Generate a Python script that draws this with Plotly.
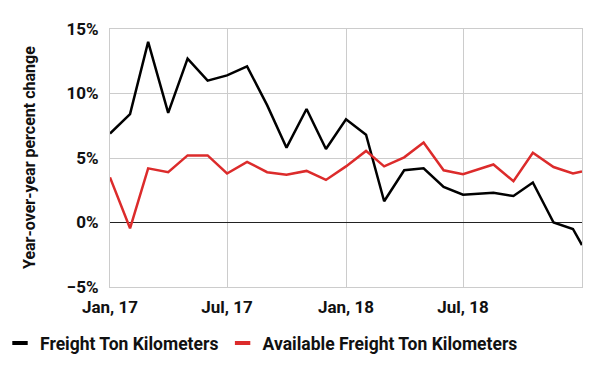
import plotly.graph_objects as go

dates = [
    "2017-01-01", "2017-02-01", "2017-03-01", "2017-04-01", "2017-05-01", "2017-06-01",
    "2017-07-01", "2017-08-01", "2017-09-01", "2017-10-01", "2017-11-01", "2017-12-01",
    "2018-01-01", "2018-02-01", "2018-03-01", "2018-04-01", "2018-05-01", "2018-06-01",
    "2018-07-01", "2018-08-17", "2018-09-17", "2018-10-17", "2018-11-18", "2018-12-18",
    "2019-01-01",
]
ftk = [6.9, 8.4, 14.0, 8.5, 12.7, 11.0, 11.4, 12.1, 9.1, 5.8, 8.8, 5.7,
       8.0, 6.8, 1.65, 4.05, 4.2, 2.75, 2.15, 2.3, 2.05, 3.1, 0.0, -0.5, -1.75]
aftk = [3.5, -0.45, 4.2, 3.9, 5.2, 5.2, 3.8, 4.7, 3.9, 3.7, 4.0, 3.3,
        4.35, 5.55, 4.35, 5.05, 6.2, 4.05, 3.75, 4.5, 3.2, 5.4, 4.3, 3.8, 3.95]

names = ["Freight Ton Kilometers", "Available Freight Ton Kilometers"]
colors = ["#000000", "#dc2b2b"]
series = [ftk, aftk]
legend_ids = ["legend", "legend2"]
y_title = "Year-over-year percent change"

FONT = "Roboto"

fig = go.Figure()
for name, col, vals, lg in zip(names, colors, series, legend_ids):
    fig.add_trace(go.Scatter(x=dates, y=vals, mode="lines", name=name,
                             line=dict(color=col, width=2.5), showlegend=False))
    fig.add_trace(go.Scatter(x=[None], y=[None], mode="markers", name=name,
                             legend=lg,
                             marker=dict(symbol="line-ew", size=11,
                                         line=dict(color=col, width=4))))

legend_common = dict(orientation="h", xref="container", yref="container",
                     y=0.075, xanchor="left", yanchor="middle",
                     font=dict(size=17.5, weight=700, color="#111111"),
                     itemwidth=30, bgcolor="rgba(0,0,0,0)")

fig.update_layout(
    width=600, height=371,
    margin=dict(l=110, r=18, t=29, b=84, autoexpand=False),
    paper_bgcolor="white", plot_bgcolor="white",
    font=dict(family=FONT, size=17, color="#111111", weight=700),
    legend=dict(x=0.0, **legend_common),
    legend2=dict(x=0.371, **legend_common),
    xaxis=dict(type="date", range=["2017-01-01", "2019-01-01"],
               dtick="M6", tick0="2017-01-01", tickformat="%b, %y",
               showgrid=True, gridcolor="#cccccc", gridwidth=1,
               showline=True, mirror=True, linecolor="#cccccc", linewidth=1,
               ticks="", ticklabelstandoff=5, automargin=False,
               tickfont=dict(size=17, weight=700)),
    yaxis=dict(range=[-5, 15], dtick=5, ticksuffix="%",
               showgrid=True, gridcolor="#cccccc", gridwidth=1,
               zeroline=True, zerolinecolor="#222222", zerolinewidth=1,
               showline=True, mirror=True, linecolor="#cccccc", linewidth=1,
               ticks="", ticklabelstandoff=7, automargin=False,
               tickfont=dict(size=17, weight=700)),
    annotations=[dict(text=y_title, textangle=-90, showarrow=False,
                      xref="paper", yref="paper",
                      x=(29 - 110) / 472, y=0.5,
                      xanchor="center", yanchor="middle",
                      font=dict(size=16, weight=700, color="#111111"))],
)

fig.write_html("out.html",
               config={"displayModeBar": False},
               post_script="document.body.style.margin='0px';"
                           "document.body.style.overflow='hidden';")
